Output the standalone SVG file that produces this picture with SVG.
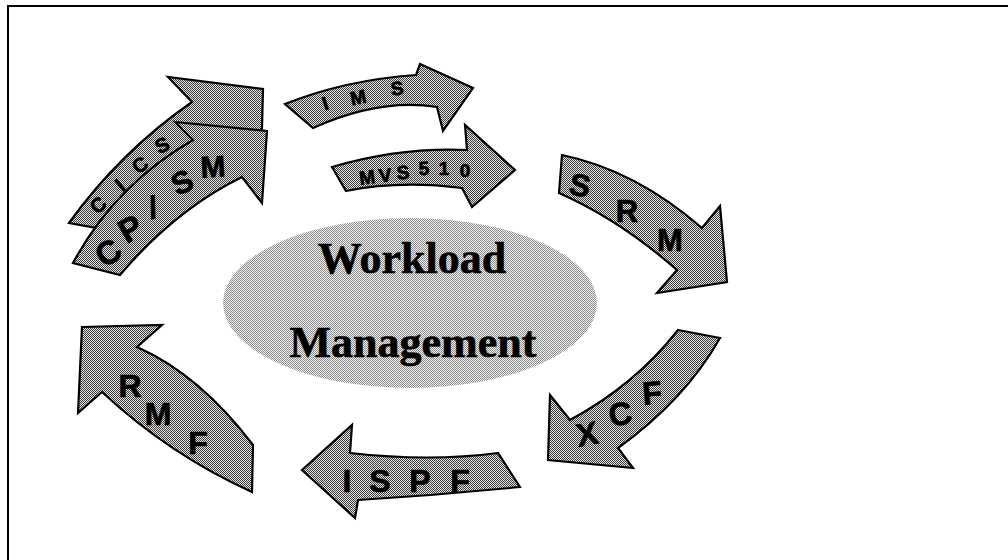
<svg xmlns="http://www.w3.org/2000/svg" width="1008" height="560" viewBox="0 0 1008 560">
<defs>
<pattern id="dark" width="2" height="2" patternUnits="userSpaceOnUse">
<rect width="2" height="2" fill="#e4e4e4"/>
<rect x="0" y="0" width="1" height="1" fill="#3c3c3c"/>
<rect x="1" y="1" width="1" height="1" fill="#3c3c3c"/>
</pattern>
<pattern id="light" width="2" height="2" patternUnits="userSpaceOnUse">
<rect width="2" height="2" fill="#f2f2f2"/>
<rect x="0" y="0" width="1" height="1" fill="#8a8a8a"/>
<rect x="1" y="1" width="1" height="1" fill="#8a8a8a"/>
</pattern>
</defs>
<style>
.arrow{fill:url(#dark);stroke:#000;stroke-width:2.2;stroke-linejoin:miter}
.lbl{font-family:"Liberation Sans",Arial,sans-serif;font-weight:bold;fill:#000;stroke:#000;stroke-width:0.7;text-anchor:middle}
.big{font-family:"Liberation Serif","Times New Roman",serif;font-weight:bold;font-size:44px;fill:#000;stroke:#000;stroke-width:0.6;text-anchor:middle}
.frame{stroke:#000;stroke-width:2;fill:none}
</style>
<rect width="1008" height="560" fill="#fff"/>
<path class="frame" d="M8,560 V6 H1008"/>

<g id="center">
<ellipse cx="410" cy="303" rx="187" ry="85" fill="url(#light)"/>
<text class="big" x="412" y="273">Workload</text>
<text class="big" x="413" y="357">Management</text>
</g>

<g id="cics">
<path class="arrow" d="M69,223 Q120,152 192,102 L168,77 L263,89 L262,128 L245,150 Q160,190 97,228 Z"/>
<g class="lbl" font-size="20">
<text transform="translate(98,205) rotate(-40)" y="7">C</text>
<text transform="translate(120,185) rotate(-40)" y="7">I</text>
<text transform="translate(140,165) rotate(-35)" y="7">C</text>
<text transform="translate(162,145) rotate(-25)" y="7">S</text>
</g>
</g>

<g id="cpsm">
<path class="arrow" d="M175,122 L267,131 L262,203 L242,177 Q175,210 120,275 L73,263 Q115,185 193,140 Z"/>
<g class="lbl">
<text font-size="33" transform="translate(108,252) rotate(-35)" y="12">C</text>
<text font-size="33" transform="translate(130,228) rotate(-30)" y="12">P</text>
<text font-size="31" transform="translate(153,207) rotate(-12)" y="11">/</text>
<text font-size="31" transform="translate(182,182) rotate(-25)" y="11">S</text>
<text font-size="30" transform="translate(213,166) rotate(-3)" y="11">M</text>
</g>
</g>

<g id="ims">
<path class="arrow" d="M285,104 Q345,80 416,75 L420,64 L473,88 L443,131 L437,107 Q380,98 313,128 Z"/>
<g class="lbl" font-size="19">
<text transform="translate(325,103) rotate(-18)" y="7">I</text>
<text transform="translate(358,97) rotate(-12)" y="7">M</text>
<text transform="translate(397,88) rotate(-8)" y="7">S</text>
</g>
</g>

<g id="mvs">
<path class="arrow" d="M332,167 Q400,147 467,150 L465,125 L515,170 L472,207 L462,188 Q400,180 346,191 Z"/>
<g class="lbl" font-size="19">
<text transform="translate(367,177) rotate(-8)" y="7">M</text>
<text transform="translate(385,175) rotate(-6)" y="7">V</text>
<text transform="translate(403,172) rotate(-5)" y="7">S</text>
<text transform="translate(424,168) rotate(-3)" y="7">5</text>
<text transform="translate(444,168)" y="7">1</text>
<text transform="translate(465,170)" y="7">0</text>
</g>
</g>

<g id="srm">
<path class="arrow" d="M562,155 Q635,170 702,228 L720,206 L727,282 L657,293 L677,270 Q620,220 559,193 Z"/>
<g class="lbl" font-size="31">
<text transform="translate(580,185) rotate(10)" y="11">S</text>
<text transform="translate(627,211)" y="11">R</text>
<text transform="translate(670,240)" y="11">M</text>
</g>
</g>

<g id="xcf">
<path class="arrow" d="M678,330 L720,338 Q685,400 618,448 L633,468 L548,460 L550,395 L570,420 Q635,385 678,330 Z"/>
<g class="lbl" font-size="32">
<text transform="translate(587,433) rotate(-10)" y="12">X</text>
<text transform="translate(620,413) rotate(-10)" y="12">C</text>
<text transform="translate(652,392) rotate(-5)" y="12">F</text>
</g>
</g>

<g id="ispf">
<path class="arrow" d="M302,470 L352,425 L350,453 Q430,462 498,453 L520,487 Q440,495 358,500 L355,518 Z"/>
<g class="lbl" font-size="32">
<text x="347" y="492">I</text>
<text x="380" y="492">S</text>
<text x="420" y="492">P</text>
<text x="460" y="492">F</text>
</g>
</g>

<g id="rmf">
<path class="arrow" d="M82,327 L162,325 L137,347 Q200,375 253,445 L252,492 Q170,455 102,392 L78,413 Z"/>
<g class="lbl" font-size="32">
<text transform="translate(130,385)" y="12">R</text>
<text transform="translate(158,413)" y="12">M</text>
<text transform="translate(198,442)" y="12">F</text>
</g>
</g>

<g id="connectors"/>
</svg>
